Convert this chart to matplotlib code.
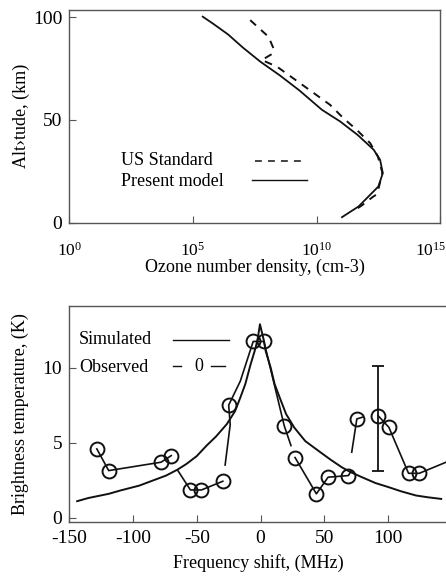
import numpy as np
import matplotlib
matplotlib.use("Agg")
import matplotlib.pyplot as plt
import matplotlib.transforms as mtransforms
from matplotlib.ticker import LogFormatterMathtext, NullLocator

plt.rcParams['font.family'] = ['Liberation Serif', 'DejaVu Serif']
plt.rcParams['mathtext.fontset'] = 'custom'
plt.rcParams['mathtext.rm'] = 'Liberation Serif'
plt.rcParams['axes.unicode_minus'] = False

# ozone profile (log10 of number density, altitude km)
model_log = [5.40, 5.84, 6.43, 7.02, 7.73, 8.51, 9.30, 10.22, 10.96, 11.67, 12.31, 12.57,
             12.68, 12.50, 12.17, 11.70, 11.03]
model_alt = [100.2, 96.6, 91.5, 85.2, 78.3, 71.7, 64.4, 54.9, 49.2, 42.6, 35.5, 30.6,
             24.1, 17.6, 13.6, 7.9, 2.7]
us_log = [7.32, 8.06, 8.26, 8.21, 7.79, 8.40, 9.34, 10.55, 11.09, 11.63, 12.17, 12.48,
          12.66, 12.52, 12.41, 12.27, 11.82, 11.57]
us_alt = [98.5, 90.4, 84.8, 82.1, 79.1, 75.9, 67.8, 57.3, 50.8, 45.1, 38.7, 32.2,
          24.4, 17.2, 13.6, 12.5, 8.3, 6.3]

# brightness temperature spectrum
sim_freq = [-143.7, -135, -119, -110, -95, -85, -74, -65, -58, -50, -42.3, -35,
            -26.4, -20, -15.9, -12, -7.9, -4, -2.1, -0.5,
            2.6, 4, 7.9, 11, 15.9, 20, 26.4, 35, 45, 55, 63.5, 70, 79.4, 90,
            100.5, 110, 121.7, 131, 141.5]
sim_temp = [1.09, 1.3, 1.58, 1.8, 2.13, 2.45, 2.8, 3.2, 3.58, 4.1, 4.8, 5.4,
            6.24, 7.1, 8.0, 8.9, 10.2, 11.3, 12.0, 12.9,
            11.8, 11.1, 10.0, 8.9, 7.8, 6.9, 6.0, 5.1, 4.47, 3.85, 3.36, 3.05, 2.69, 2.3,
            2.02, 1.75, 1.47, 1.35, 1.24]

obs_line_freq = [-128.3, -119, -78, -70, np.nan,
                 -64.8, -55, -46.3, -29.6, np.nan,
                 -27.8, -23.8, -25, -15.9, -5.8, 2.6, 18.5, 23.8, np.nan,
                 27, 43.7, 52.9, 68.8, 71, np.nan,
                 71.4, 75.4, 80, np.nan,
                 92, 100.5, 115.9, 124.3, 147]
obs_line_temp = [4.58, 3.13, 3.69, 4.13, np.nan,
                 3.13, 1.84, 1.84, 2.42, np.nan,
                 3.5, 6.2, 7.5, 9.1, 11.75, 11.75, 6.13, 4.8, np.nan,
                 4.0, 1.58, 2.69, 2.8, 3.1, np.nan,
                 4.36, 6.58, 6.7, np.nan,
                 6.8, 6.02, 2.95, 2.95, 3.75]
obs_circ_freq = [-128.3, -119, -78, -70, -55, -46.3, -29.6, -25, -5.8, 2.6,
                 18.5, 27, 43.7, 52.9, 68.8, 75.4, 92, 100.5, 115.9, 124.3]
obs_circ_temp = [4.58, 3.13, 3.69, 4.13, 1.84, 1.84, 2.42, 7.5, 11.75, 11.75,
                 6.13, 4.0, 1.58, 2.69, 2.8, 6.58, 6.8, 6.02, 2.95, 2.95]
err_freq = [92]
err_temp = [6.6]
err_lo = [3.5]
err_hi = [3.5]

INK = '#111111'

fig = plt.figure(figsize=(4.46, 5.80), dpi=100)
ax1 = fig.add_axes([0.155, 0.616, 0.832, 0.367])
ax2 = fig.add_axes([0.155, 0.100, 0.850, 0.372])

for ax in (ax1, ax2):
    for s in ax.spines.values():
        s.set_color('#555555')
        s.set_linewidth(1.0)
    ax.tick_params(direction='in', length=5, color='#555555', labelsize=14,
                   pad=5, top=False, right=False)
ax1.tick_params(axis='x', labelsize=12.5, pad=14)
ax2.tick_params(axis='x', pad=6)

# top panel
ax1.plot(10.0 ** np.array(us_log), us_alt, color=INK, lw=1.4, ls=(0, (4, 3.5)))
ax1.plot(10.0 ** np.array(model_log), model_alt, color=INK, lw=1.3)
ax1.set_xscale('log')
ax1.set_xlim(1, 1e15)
ax1.set_ylim(0, 103.5)
ax1.set_xticks([1, 1e5, 1e10, 1e15])
ax1.xaxis.set_major_formatter(LogFormatterMathtext())
ax1.xaxis.set_minor_locator(NullLocator())
ax1.set_yticks([0, 50, 100])
ax1.set_xlabel('Ozone number density, (cm-3)', fontsize=13, labelpad=-1)
ax1.set_ylabel('Alt\u203atude, (km)', fontsize=13, labelpad=2)

# keep the last decade label inside the figure, as in the original
fig.canvas.draw()
last = ax1.get_xticklabels()[-1]
last.set_ha('right')
last.set_transform(last.get_transform() + mtransforms.ScaledTranslation(6 / 100, 0, fig.dpi_scale_trans))

# top legend, keys drawn right of the labels
ax1.text(0.140, 0.291, 'US Standard', transform=ax1.transAxes, fontsize=13,
         ha='left', va='center')
ax1.text(0.140, 0.194, 'Present model', transform=ax1.transAxes, fontsize=13,
         ha='left', va='center')
ax1.plot([0.501, 0.633], [0.288, 0.288], transform=ax1.transAxes, color=INK,
         lw=1.1, ls=(0, (4.5, 4)))
ax1.plot([0.493, 0.642], [0.199, 0.199], transform=ax1.transAxes, color=INK, lw=1.0)

# bottom panel
ax2.plot(sim_freq, sim_temp, color=INK, lw=1.4)
ax2.plot(obs_line_freq, obs_line_temp, color=INK, lw=1.2)
ax2.plot(obs_circ_freq, obs_circ_temp, ls='none', marker='o', ms=10,
         mfc='none', mec=INK, mew=1.4)
ax2.errorbar(err_freq, err_temp, yerr=[err_lo, err_hi], fmt='none',
             ecolor=INK, elinewidth=1.3, capsize=4, capthick=1.3)
ax2.set_xlim(-150, 147)
ax2.set_ylim(-0.3, 14.1)
ax2.set_xticks([-150, -100, -50, 0, 50, 100])
ax2.set_yticks([0, 5, 10])
ax2.set_xlabel('Frequency shift, (MHz)', fontsize=13, labelpad=5)
ax2.set_ylabel('Brightness temperature, (K)', fontsize=13, labelpad=10)

# bottom legend
ax2.text(0.026, 0.847, 'Simulated', transform=ax2.transAxes, fontsize=13,
         ha='left', va='center')
ax2.text(0.026, 0.718, 'Observed', transform=ax2.transAxes, fontsize=13,
         ha='left', va='center')
ax2.plot([0.274, 0.422], [0.843, 0.843], transform=ax2.transAxes, color=INK, lw=1.0)
ax2.plot([0.274, 0.296, np.nan, 0.375, 0.412], [0.722, 0.722, np.nan, 0.722, 0.722],
         transform=ax2.transAxes, color=INK, lw=1.0)
ax2.text(0.343, 0.722, '0', transform=ax2.transAxes, fontsize=13,
         ha='center', va='center')

fig.savefig('out.png', dpi=100)
